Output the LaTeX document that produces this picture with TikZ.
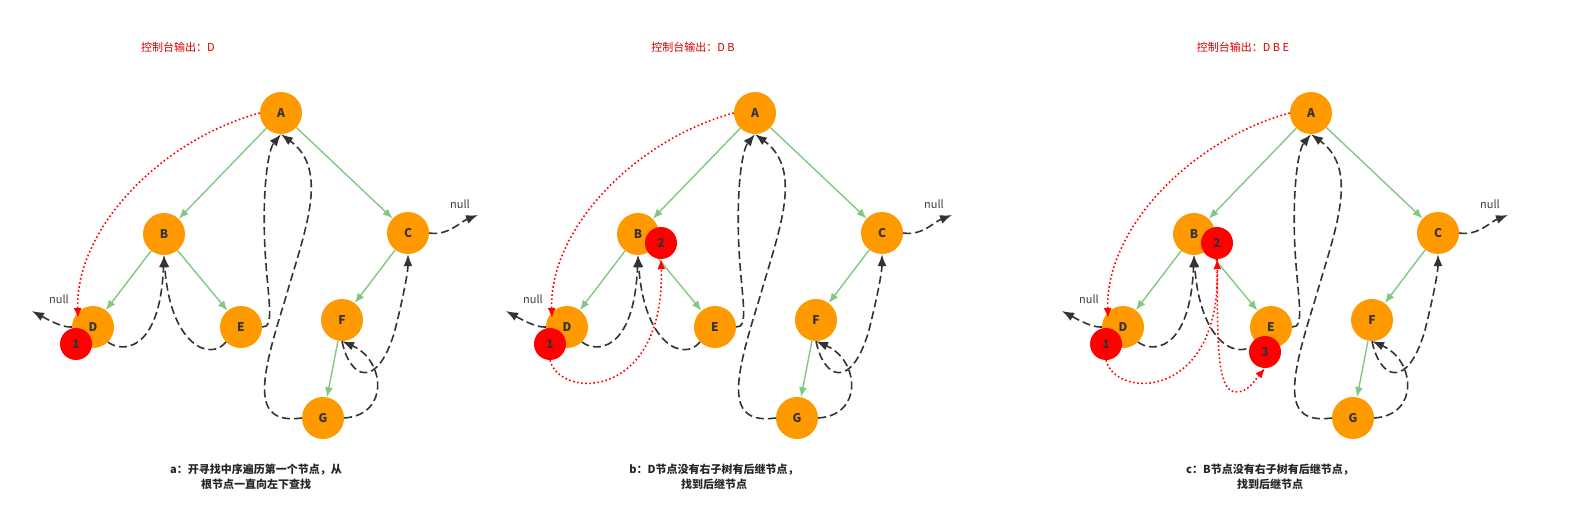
\documentclass[tikz,border=0pt]{standalone}
\usepackage{fontspec}
\setmainfont{Noto Sans CJK SC}
\usetikzlibrary{arrows.meta}
\definecolor{trg}{RGB}{130,200,130}
\definecolor{thg}{RGB}{51,51,51}
\definecolor{org}{RGB}{255,153,0}
\begin{document}
\begin{tikzpicture}[x=1pt,y=-1pt,
  nd/.style={circle,fill=org,minimum size=42pt,inner sep=0pt,font=\bfseries\fontsize{12}{12}\selectfont,text=black!80},
  rd/.style={circle,fill=red,minimum size=32pt,inner sep=0pt,font=\bfseries\fontsize{12}{12}\selectfont,text=black!80},
  tr/.style={draw=trg,line width=1.4pt,-{Latex[length=10pt,width=8pt]}},
  th/.style={draw=thg,line width=1.6pt,dash pattern=on 8pt off 4pt,-{Latex[length=12pt,width=9pt]}},
  rt/.style={draw=red,line width=1.6pt,dash pattern=on 1.6pt off 2.5pt,-{Latex[length=10pt,width=8pt]},red},
  nl/.style={font=\fontsize{11}{11}\selectfont,text=black!75},
  captxt/.style={font=\bfseries\fontsize{11}{15}\selectfont,align=center,text=black!85},
  outtxt/.style={font=\fontsize{11}{11}\selectfont,text=red!85!black}]
\useasboundingbox (0,0) rectangle (1584,521);
\newcommand\mypanel[2]{%
\begin{scope}[shift={(#2,0)}]
\node[nd] (#1A) at (281,113) {A};
\node[nd] (#1B) at (164,234) {B};
\node[nd] (#1C) at (408,233) {C};
\node[nd] (#1D) at (93,327) {D};
\node[nd] (#1E) at (241,327) {E};
\node[nd] (#1F) at (342,320) {F};
\node[nd] (#1G) at (323,418) {G};
\node[rd] (#1r1) at (76,344) {1};
\coordinate (#1nD) at (32,311);
\coordinate (#1nC) at (478,215);
\node[nl] (#1lD) at (59,299) {null};
\node[nl] (#1lC) at (460,204) {null};
\draw[tr] (#1A) -- (#1B);
\draw[tr] (#1A) -- (#1C);
\draw[tr] (#1B) -- (#1D);
\draw[tr] (#1B) -- (#1E);
\draw[tr] (#1C) -- (#1F);
\draw[tr] (#1F) -- (#1G);
\draw[th] (#1D.west) .. controls (62,328) and (45,318) .. (#1nD);
\draw[th] (#1C.east) .. controls (448,236) and (460,222) .. (#1nC);
\draw[th] (#1D.south east) .. controls (120,352) and (160,355) .. (#1B.south);
\draw[th] (#1E.south west) .. controls (210,362) and (170,345) .. (#1B.south);
\draw[th] (#1E.east) .. controls (275,328) and (268,300) .. (265,250) .. controls (262,190) and (268,150) .. (#1A.south);
\draw[th] (#1G.west) .. controls (250,425) and (260,380) .. (285,300) .. controls (305,230) and (330,170) .. (#1A.south);
\draw[th] (#1G.east) .. controls (390,415) and (385,360) .. (#1F.south);
\draw[th] (#1F.south) .. controls (350,380) and (378,390) .. (395,330) .. controls (405,290) and (408,270) .. (#1C.south);
\draw[rt] (#1A.west) .. controls (160,140) and (75,230) .. (78,318);
\end{scope}}
\mypanel{a}{0}
\mypanel{b}{474}
\mypanel{c}{1030}
\node[rd] (b2) at (661,243) {2};
\node[rd] (c2) at (1217,243) {2};
\node[rd] (c3) at (1265,352) {3};
\draw[rt] (br1.south) .. controls (560,400) and (665,400) .. (b2.south);
\draw[rt] (cr1.south) .. controls (1116,400) and (1221,400) .. (c2.south);
\draw[rt] (c2.south) .. controls (1218,330) and (1215,390) .. (1235,392) .. controls (1248,393) and (1255,380) .. (c3.south);
\node[outtxt] (oa) at (178,47) {控制台输出：D};
\node[outtxt] (ob) at (693,47) {控制台输出：D B};
\node[outtxt] (oc) at (1243,47) {控制台输出：D B E};
\node[captxt] (ka) at (256,477) {a：开寻找中序遍历第一个节点，从\\根节点一直向左下查找};
\node[captxt] (kb) at (714,477) {b：D节点没有右子树有后继节点，\\找到后继节点};
\node[captxt] (kc) at (1270,477) {c：B节点没有右子树有后继节点，\\找到后继节点};
\end{tikzpicture}
\end{document}
